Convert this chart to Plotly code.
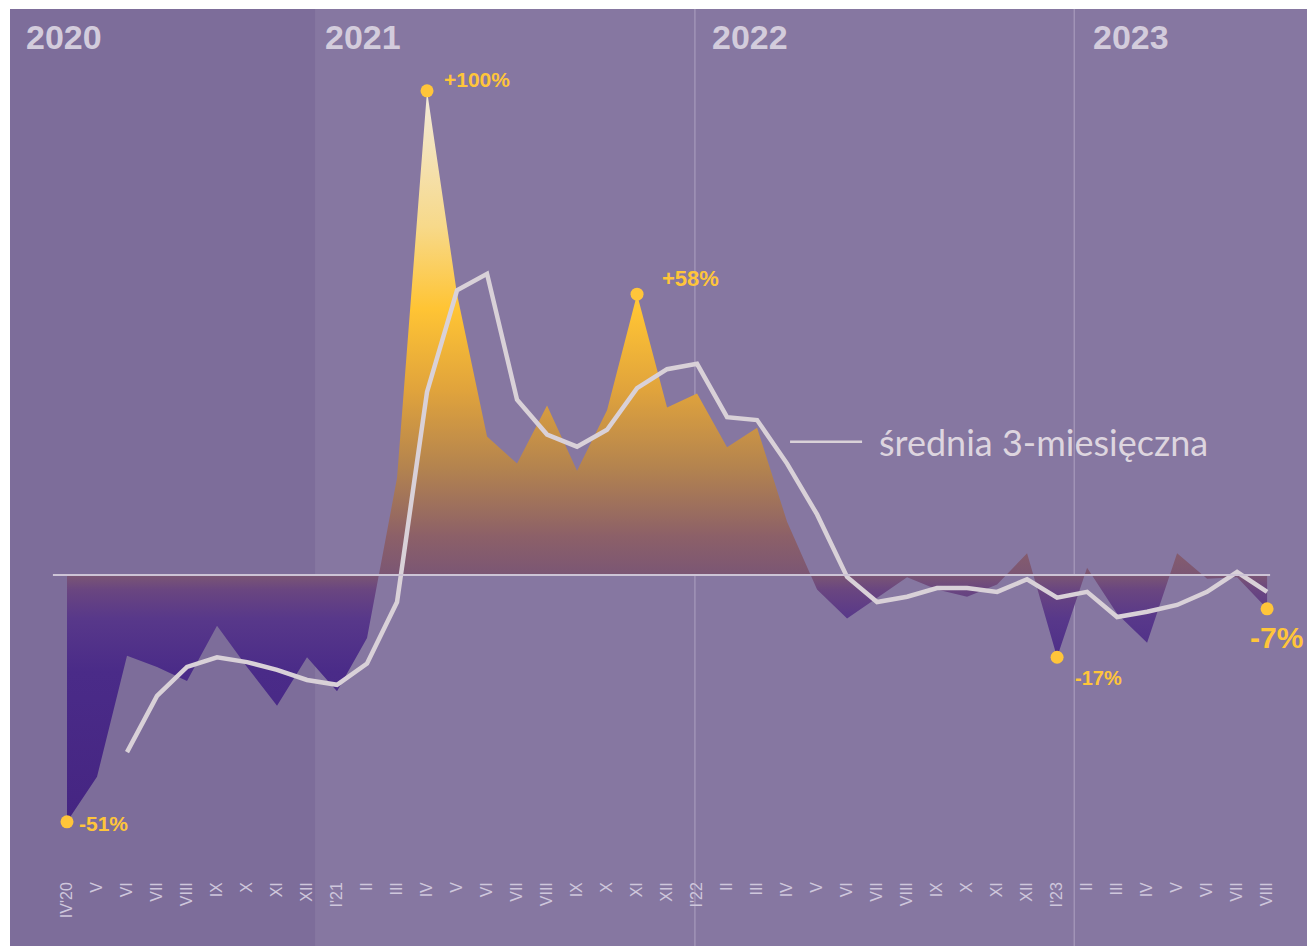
import plotly.graph_objects as go

# ---------------- data ----------------
month_labels = ["IV'20", "V", "VI", "VII", "VIII", "IX", "X", "XI", "XII",
                "I'21", "II", "III", "IV", "V", "VI", "VII", "VIII", "IX", "X", "XI", "XII",
                "I'22", "II", "III", "IV", "V", "VI", "VII", "VIII", "IX", "X", "XI", "XII",
                "I'23", "II", "III", "IV", "V", "VI", "VII", "VIII"]

# monthly y/y change, %
monthly_change = [-51, -41.7, -16.7, -19, -21.9, -10.5, -19, -27, -17,
                  -24, -13, 20, 100, 58, 28.6, 23, 35, 21.5, 34, 58, 34.6,
                  37.5, 26.4, 30.4, 11, -3, -9, -4.8, -0.5, -3, -4.5, -2, 4.5,
                  -17, 1.5, -8, -14, 4.5, -0.8, -0.5, -7]

# 3-month average (starts at VI'20)
avg_start = 2
avg_3m = [-36.6, -25, -19, -17, -18, -19.6, -21.7, -22.7, -18.3, -5.6,
          37.8, 58.8, 62.2, 36.2, 29, 26.5, 30, 38.6, 42.5, 43.6, 32.6,
          32, 23, 12.5, -0.4, -5.6, -4.5, -2.7, -2.7, -3.5, -0.9, -4.7,
          -3.5, -8.7, -7.6, -6.2, -3.5, 0.6, -3.5]

highlight_idx = [0, 12, 19, 33, 40]
highlight_text = ["-51%", "+100%", "+58%", "-17%", "-7%"]

years = ["2020", "2021", "2022", "2023"]
year_start = [-1.9, 8.27, 20.93, 33.57]   # band starts (month index units)
legend_text = "średnia 3-miesięczna"

# ---------------- styling ----------------
BG = "#8677a1"
BAND_2020 = "#7d6d9a"
YELLOW = "#ffc53a"
LIGHT = "#d9d1d8"

x_idx = list(range(len(monthly_change)))
vmin, vmax = min(monthly_change), max(monthly_change)


def pos(v):
    return (v - vmin) / (vmax - vmin)


grad_stops = [(-51, "#452582"), (-20, "#4a2b88"), (-9, "#58388a"), (-3, "#6a4680"),
              (0, "#7b5674"), (8, "#8c6068"), (22, "#b3834f"), (38, "#e0a33c"),
              (55, "#ffc434"), (72, "#f7d98a"), (100, "#f2eadb")]
colorscale = [[pos(v), c] for v, c in grad_stops]

fig = go.Figure()

fig.add_trace(go.Scatter(
    x=x_idx, y=monthly_change, mode="lines", fill="tozeroy",
    line=dict(width=0, color="rgba(0,0,0,0)"),
    fillgradient=dict(type="vertical", colorscale=colorscale, start=vmin, stop=vmax),
    hoverinfo="skip", showlegend=False))

fig.add_trace(go.Scatter(
    x=list(range(avg_start, avg_start + len(avg_3m))), y=avg_3m, mode="lines",
    line=dict(width=4.5, color=LIGHT), showlegend=False, hoverinfo="skip"))

fig.add_trace(go.Scatter(
    x=highlight_idx, y=[monthly_change[i] for i in highlight_idx], mode="markers",
    marker=dict(size=13, color=YELLOW), showlegend=False, hoverinfo="skip"))

shapes = []
# purple background
shapes.append(dict(type="rect", xref="paper", yref="paper", x0=0, x1=1, y0=-0.2, y1=1,
                   fillcolor=BG, line=dict(width=0), layer="below"))
# 2020 darker band
shapes.append(dict(type="rect", xref="x", yref="paper", x0=year_start[0], x1=year_start[1],
                   y0=-0.2, y1=1, fillcolor=BAND_2020, line=dict(width=0), layer="below"))
# year separator lines
for xs in year_start[2:]:
    shapes.append(dict(type="line", xref="x", yref="paper", x0=xs, x1=xs, y0=-0.2, y1=1,
                       line=dict(color="rgba(225,215,235,0.45)", width=1), layer="below"))
# zero line
shapes.append(dict(type="line", xref="x", yref="y", x0=-0.47, x1=40.1, y0=0, y1=0,
                   line=dict(color="#cdc4d6", width=2), layer="above"))
# legend sample line
shapes.append(dict(type="line", xref="x", yref="y", x0=24.1, x1=26.5, y0=27.5, y1=27.5,
                   line=dict(color=LIGHT, width=2.5), layer="above"))

annotations = []
for y_lbl, xs, sh in zip(years, year_start, [14, 8, 15, 17]):
    annotations.append(dict(x=xs, y=111.2, xref="x", yref="y", text=y_lbl, showarrow=False,
                            xanchor="left", yanchor="middle", xshift=sh,
                            font=dict(family="Liberation Sans", size=34, color="#d3ccdc", weight="bold")))

label_cfg = {
    "-51%": dict(xshift=10, yshift=-2, xanchor="left", size=21),
    "+100%": dict(xshift=15, yshift=11, xanchor="left", size=21),
    "+58%": dict(xshift=23, yshift=16, xanchor="left", size=22),
    "-17%": dict(xshift=16, yshift=-21, xanchor="left", size=20),
    "-7%": dict(xshift=9, yshift=-29, xanchor="center", size=30),
}
for i, t in zip(highlight_idx, highlight_text):
    c = label_cfg[t]
    annotations.append(dict(x=i, y=monthly_change[i], xref="x", yref="y", text=t, showarrow=False,
                            xanchor=c["xanchor"], yanchor="middle", xshift=c["xshift"], yshift=c["yshift"],
                            font=dict(family="Liberation Sans", size=c["size"], color=YELLOW, weight="bold")))

annotations.append(dict(x=27.0, y=27.5, xref="x", yref="y", text=legend_text, showarrow=False,
                        xanchor="left", yanchor="middle",
                        font=dict(family="Lato", size=36, color="#ddd5df")))

fig.update_layout(
    width=1307, height=946,
    margin=dict(l=10, r=0, t=9, b=68),
    paper_bgcolor="white", plot_bgcolor="rgba(0,0,0,0)",
    shapes=shapes, annotations=annotations,
    showlegend=False,
    xaxis=dict(range=[-1.9, 41.33], tickmode="array", tickvals=x_idx, ticktext=month_labels,
               tickangle=-90, showgrid=False, zeroline=False, showline=False, ticks="",
               tickfont=dict(family="Liberation Sans", size=16, color="#cfc7dc")),
    yaxis=dict(range=[-62.6, 116.9], showgrid=False, zeroline=False, showline=False,
               showticklabels=False, ticks=""),
)

# remove the default 8px page margin so the figure fills the window exactly
fig.write_html("out.html",
               config={"displayModeBar": False},
               post_script="document.body.style.margin='0';document.documentElement.style.overflow='hidden';")
